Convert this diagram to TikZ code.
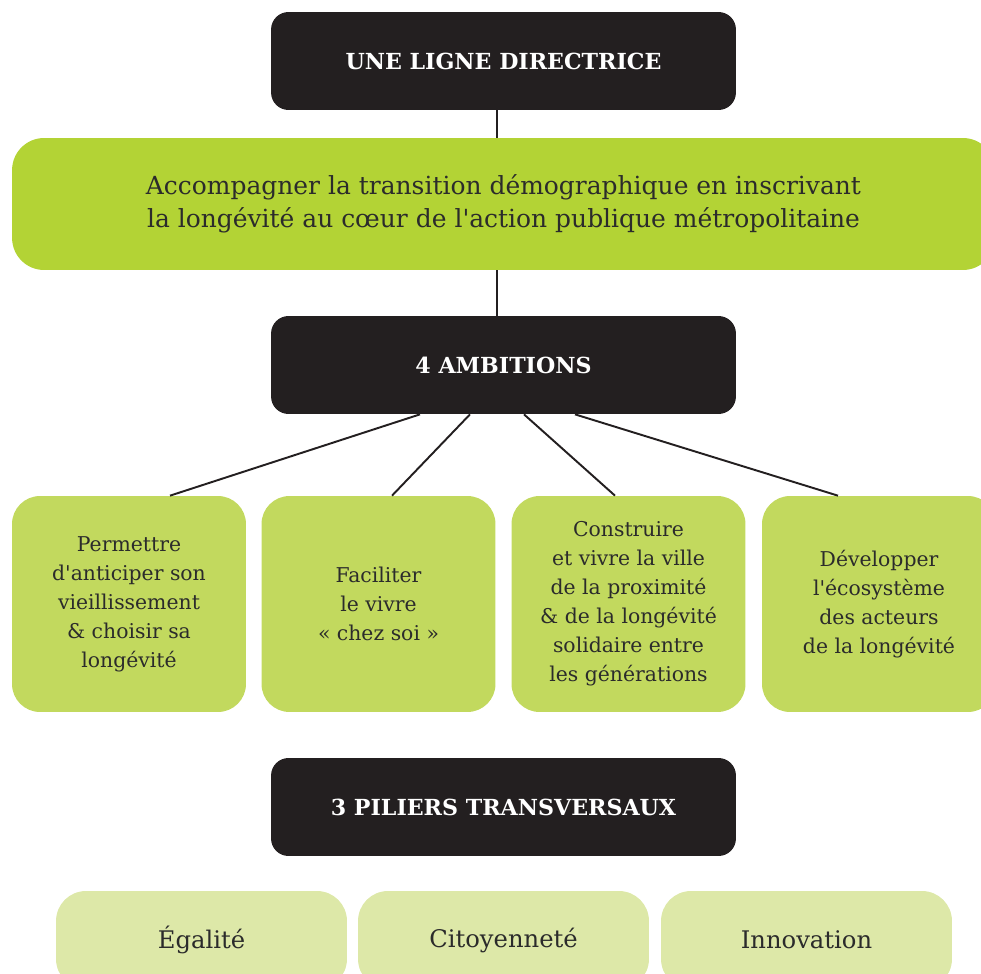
\documentclass[tikz,border=0pt]{standalone}
\usepackage{fontspec}
\setmainfont{DejaVu Serif}[Ligatures=TeXOff]
\usetikzlibrary{positioning}
\definecolor{inkdark}{HTML}{231F20}
\definecolor{textdark}{HTML}{2B2B2B}
\definecolor{limegreen}{HTML}{B3D335}
\definecolor{midgreen}{HTML}{C2D95E}
\definecolor{palegreen}{HTML}{DDE8A8}

\begin{document}
\begin{tikzpicture}[x=0.02cm, y=-0.02cm,
  darkbox/.style={fill=inkdark, text=white, rounded corners=0.35cm,
    minimum width=9.3cm, minimum height=1.96cm,
    font=\fontsize{12.6}{15}\selectfont\bfseries},
  banner/.style={fill=limegreen, text=textdark, rounded corners=0.64cm,
    minimum width=19.66cm, minimum height=2.64cm, align=center,
    font=\fontsize{14.2}{18.8}\selectfont},
  ambbox/.style={fill=midgreen, text=textdark, rounded corners=0.56cm,
    minimum width=4.68cm, minimum height=4.32cm, align=center,
    font=\fontsize{11.6}{16.5}\selectfont},
  pilbox/.style={fill=palegreen, text=textdark, rounded corners=0.6cm,
    minimum width=5.82cm, minimum height=1.96cm,
    font=\fontsize{13.8}{15}\selectfont},
  link/.style={draw=inkdark, line width=1.1pt}]
  \useasboundingbox (0,0) rectangle (981,974);
  \clip (0,0) rectangle (981,974);

  % ligne directrice
  \node [darkbox] (ligne) at (503.5,61) {UNE LIGNE DIRECTRICE};
  \node [banner] (transition) at (503.5,204)
    {Accompagner la transition démographique en inscrivant\\
     la longévité au cœur de l'action publique métropolitaine};
  \node [darkbox] (ambitions) at (503.5,365) {4 AMBITIONS};

  % ambitions
  \node [ambbox] (anticiper) at (129,604)
    {Permettre\\d'anticiper son\\vieillissement\\\& choisir sa\\longévité};
  \node [ambbox] (chezsoi) at (378.5,604) {Faciliter\\le vivre\\« chez soi »};
  \node [ambbox] (proximite) at (628.5,604)
    {Construire\\et vivre la ville\\de la proximité\\\& de la longévité\\solidaire entre\\les générations};
  \node [ambbox] (ecosysteme) at (879,604)
    {Développer\\l'écosystème\\des acteurs\\de la longévité};

  % piliers
  \node [darkbox] (piliers) at (503.5,807) {3 PILIERS TRANSVERSAUX};
  \node [pilbox] (egalite) at (201.5,940) {Égalité};
  \node [pilbox] (citoyennete) at (503.5,940) {Citoyenneté};
  \node [pilbox] (innovation) at (806.5,940) {Innovation};

  \draw [link] ([xshift=-0.13cm]ligne.south) -- ([xshift=-0.13cm]transition.north);
  \draw [link] ([xshift=-0.13cm]transition.south) -- ([xshift=-0.13cm]ambitions.north);
  \draw [link] ([xshift=-1.67cm]ambitions.south) -- ([xshift=0.82cm]anticiper.north);
  \draw [link] ([xshift=-0.67cm]ambitions.south) -- ([xshift=0.27cm]chezsoi.north);
  \draw [link] ([xshift=0.41cm]ambitions.south) -- ([xshift=-0.27cm]proximite.north);
  \draw [link] ([xshift=1.43cm]ambitions.south) -- ([xshift=-0.82cm]ecosysteme.north);
\end{tikzpicture}
\end{document}
